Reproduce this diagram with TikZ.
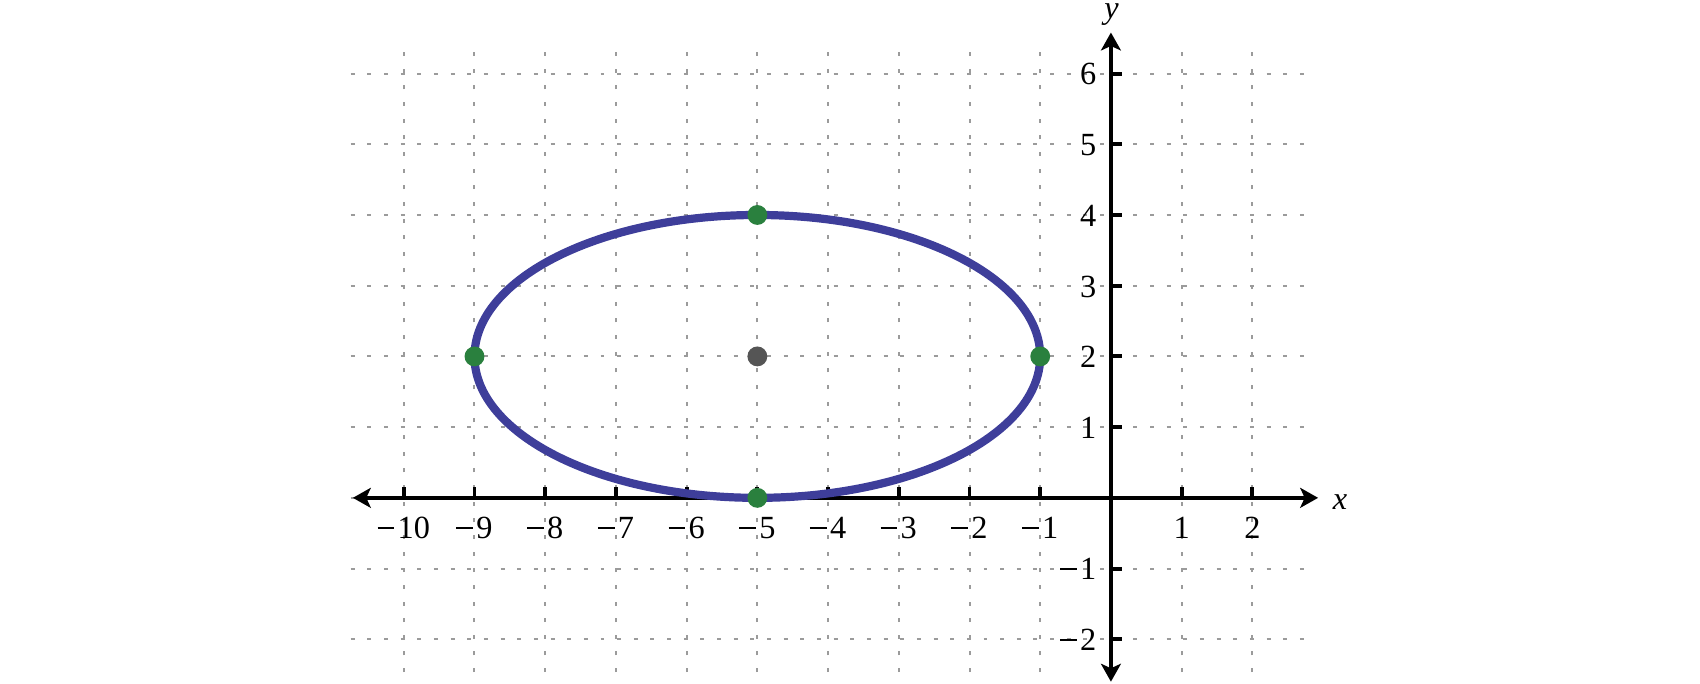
\documentclass[tikz,border=0pt]{standalone}
\usepackage{fontspec}
\setmainfont{Liberation Serif}
\usetikzlibrary{arrows.meta}
\definecolor{ellblue}{RGB}{62,62,154}
\definecolor{ptgreen}{RGB}{42,128,62}
\definecolor{ptgray}{RGB}{85,85,85}
\definecolor{gridgray}{RGB}{155,155,155}
\newcommand\mns{\rule[0.3em]{0.52em}{0.055em}\hspace{0.1em}}
\begin{document}
\begin{tikzpicture}[x=1cm,y=1cm,
  gridline/.style={gridgray, line width=0.8pt, dash pattern=on 1.6pt off 5.1pt},
  axisline/.style={line width=1.6pt, black,
    {Stealth[length=7.2pt,width=8pt,inset=1.8pt]}-{Stealth[length=7.2pt,width=8pt,inset=1.8pt]}},
  tickmark/.style={line width=1.6pt, black},
  ticklabel/.style={font=\fontsize{13}{15}\selectfont, inner sep=0pt},
  ptdot/.style={circle, inner sep=0pt, minimum size=8pt}]
\useasboundingbox (-15.71,-2.62) rectangle (8.33,7.04);
% grid
\foreach \x in {-10,...,2} \draw[gridline] (\x,-2.7) -- (\x,6.39);
\foreach \y in {-2,...,6} \draw[gridline] (-10.75,\y) -- (2.75,\y);
% axes
\coordinate (xl) at (-10.72,0);
\coordinate (xr) at (2.93,0);
\coordinate (yb) at (0,-2.6);
\coordinate (yt) at (0,6.58);
\draw[axisline] (xl) -- (xr);
\draw[axisline] (yb) -- (yt);
% ticks
\foreach \x in {1,...,10} \draw[tickmark] (-\x,0) -- (-\x,0.16);
\foreach \x in {1,2} \draw[tickmark] (\x,0) -- (\x,0.16);
\foreach \y in {1,...,6} \draw[tickmark] (0,\y) -- (0.16,\y);
\foreach \y in {1,2} \draw[tickmark] (0,-\y) -- (0.16,-\y);
% tick labels
\foreach \x in {1,...,10} \node[ticklabel, anchor=base] (lxm\x) at (-\x,-0.58) {\mns\x};
\foreach \x in {1,2} \node[ticklabel, anchor=base] (lxp\x) at (\x,-0.58) {\x};
\foreach \y in {1,...,6} \node[ticklabel, anchor=base east] (lyp\y) at (-0.2,\y-0.16) {\y};
\foreach \y in {1,2} \node[ticklabel, anchor=base east] (lym\y) at (-0.2,-\y-0.16) {\mns\y};
% axis labels
\node[ticklabel, anchor=base] (xlab) at (3.24,-0.17) {\textit{x}};
\node[ticklabel, anchor=base] (ylab) at (0.01,6.78) {\textit{y}};
% ellipse
\draw[ellblue, line width=3.3pt] (-5,2) ellipse [x radius=4, y radius=2];
% points
\node[ptdot, fill=ptgray] (c) at (-5,2) {};
\node[ptdot, fill=ptgreen] (v1) at (-9,2) {};
\node[ptdot, fill=ptgreen] (v2) at (-1,2) {};
\node[ptdot, fill=ptgreen] (v3) at (-5,4) {};
\node[ptdot, fill=ptgreen] (v4) at (-5,0) {};
\end{tikzpicture}
\end{document}
